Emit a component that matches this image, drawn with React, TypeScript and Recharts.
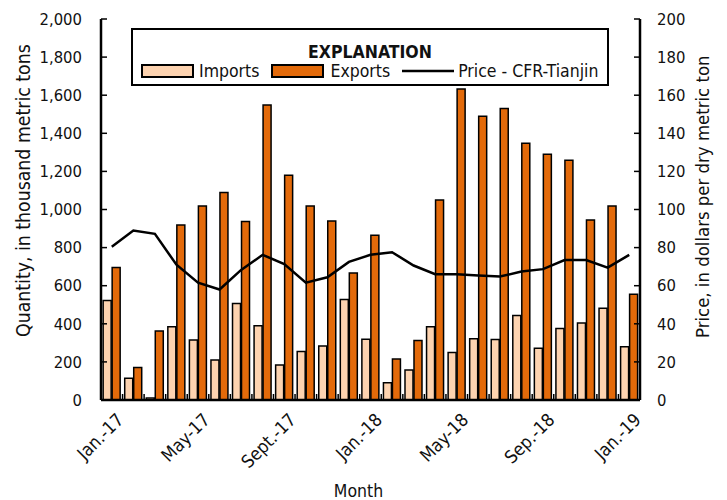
import { ComposedChart, Bar, Line, XAxis, YAxis } from "recharts";

const months = [
  "Jan.-17", "Feb.-17", "Mar.-17", "Apr.-17", "May-17", "June-17", "July-17", "Aug.-17", "Sept.-17",
  "Oct.-17", "Nov.-17", "Dec.-17", "Jan.-18", "Feb.-18", "Mar.-18", "Apr.-18", "May-18", "June-18",
  "July-18", "Aug.-18", "Sep.-18", "Oct.-18", "Nov.-18", "Dec.-18", "Jan.-19",
];
const imports = [522, 114, 10, 385, 315, 210, 506, 390, 184, 254, 284, 527, 319, 91, 158, 385, 249, 322, 317, 443, 271, 375, 404, 482, 280];
const exports = [695, 170, 362, 918, 1019, 1089, 937, 1548, 1180, 1019, 939, 667, 865, 215, 312, 1050, 1632, 1490, 1530, 1348, 1290, 1259, 945, 1019, 555];
const price = [80.5, 89, 87.2, 71, 61.6, 58, 68.3, 76.2, 71.3, 61.6, 64.4, 72.5, 76.2, 77.6, 70.6, 66, 66, 65.4, 64.8, 67.4, 68.7, 73.5, 73.5, 69.5, 76.2];
const leftTicks = [0, 200, 400, 600, 800, 1000, 1200, 1400, 1600, 1800, 2000];
const rightTicks = [0, 20, 40, 60, 80, 100, 120, 140, 160, 180, 200];

const data = months.map((month, i) => ({ month, imports: imports[i], exports: exports[i], price: price[i] }));

const W = 727;
const H = 500;
const M = { top: 19, right: 10, bottom: 0, left: 12 };
const LEFT_W = 89;
const RIGHT_W = 77;
const X_H = 100;
const PLOT_W = W - M.left - M.right - LEFT_W - RIGHT_W;
const BAND = PLOT_W / months.length;

const FONT = '"Liberation Sans Narrow", "Arial Narrow", "DejaVu Sans Condensed", sans-serif';
const IMPORT_FILL = "#FDD3B0";
const EXPORT_FILL = "#E36A0A";

const BottomTick = (props: any) => {
  const { x, y, index, payload } = props;
  const bx = x - BAND / 2;
  const ax = x + 4;
  const ay = y + 12;
  return (
    <g>
      <line x1={bx} x2={bx} y1={y} y2={y - 6} stroke="#000" strokeWidth={1.5} />
      {index % 4 === 0 && (
        <text
          x={ax}
          y={ay}
          dy="0.7em"
          textAnchor="end"
          transform={`rotate(-45 ${ax} ${ay})`}
          fontSize={18}
          fontFamily={FONT}
          fill="#111"
        >
          {payload.value}
        </text>
      )}
    </g>
  );
};

const TopTick = (props: any) => {
  const { x, y } = props;
  const bx = x + BAND / 2;
  return <line x1={bx} x2={bx} y1={y} y2={y + 6} stroke="#000" strokeWidth={1.5} />;
};

const LeftTick = (props: any) => {
  const { x, y, payload } = props;
  return (
    <g>
      <line x1={x} x2={x + 6} y1={y} y2={y} stroke="#000" strokeWidth={1.5} />
      <text x={x - 19} y={y} dy="0.35em" textAnchor="end" fontSize={16.5} fontFamily={FONT} fill="#111">
        {payload.value.toLocaleString("en-US")}
      </text>
    </g>
  );
};

const RightTick = (props: any) => {
  const { x, y, payload } = props;
  return (
    <g>
      <line x1={x} x2={x - 6} y1={y} y2={y} stroke="#000" strokeWidth={1.5} />
      <text x={x + 17} y={y} dy="0.35em" textAnchor="start" fontSize={16.5} fontFamily={FONT} fill="#111">
        {payload.value}
      </text>
    </g>
  );
};

// axis titles start low (near y = 337) and read upwards
const AxisTitle = (props: any) => {
  const { px, py, size, title } = props;
  return (
    <text
      x={px}
      y={py}
      dy="0.35em"
      textAnchor="start"
      transform={`rotate(-90 ${px} ${py})`}
      fontSize={size}
      fontFamily={FONT}
      fill="#111"
    >
      {title}
    </text>
  );
};

function Explanation() {
  return (
    <div
      style={{
        position: "absolute",
        left: 131,
        top: 28,
        width: 474,
        height: 54,
        border: "2px solid #000",
        background: "#fff",
        fontFamily: FONT,
        fontSize: 17.5,
        color: "#111",
      }}
    >
      <div style={{ textAlign: "center", fontWeight: "bold", marginTop: 13, lineHeight: "18px" }}>
        EXPLANATION
      </div>
      <div style={{ display: "flex", alignItems: "center", marginLeft: 8, lineHeight: "20px" }}>
        <svg width={54} height={14} style={{ marginRight: 4 }}>
          <rect x={1} y={1} width={51} height={12} fill={IMPORT_FILL} stroke="#000" strokeWidth={2} />
        </svg>
        <span style={{ marginRight: 12 }}>Imports</span>
        <svg width={54} height={14} style={{ marginRight: 5 }}>
          <rect x={1} y={1} width={51} height={12} fill={EXPORT_FILL} stroke="#000" strokeWidth={2} />
        </svg>
        <span style={{ marginRight: 12 }}>Exports</span>
        <svg width={52} height={14} style={{ marginRight: 4 }}>
          <line x1={0} x2={52} y1={7} y2={7} stroke="#000" strokeWidth={2.5} />
        </svg>
        <span>Price - CFR-Tianjin</span>
      </div>
    </div>
  );
}

export default function App() {
  return (
    <div style={{ position: "absolute", left: 0, top: 0, width: W, height: H, background: "#fff" }}>
      <ComposedChart width={W} height={H} data={data} margin={M} barCategoryGap="10%" barGap={1}>
        <XAxis
          dataKey="month"
          height={X_H}
          interval={0}
          tickSize={0}
          tickMargin={0}
          tickLine={false}
          axisLine={{ stroke: "#000", strokeWidth: 2.5 }}
          tick={BottomTick}
          label={{ value: "Month", position: "insideBottom", offset: 3, dx: -12, fontSize: 17.5, fontFamily: FONT, fill: "#111" }}
        />
        <XAxis
          xAxisId="top"
          dataKey="month"
          orientation="top"
          height={0}
          interval={0}
          tickSize={0}
          tickMargin={0}
          tickLine={false}
          axisLine={{ stroke: "#000", strokeWidth: 2.5 }}
          tick={TopTick}
        />
        <YAxis
          yAxisId="left"
          width={LEFT_W}
          domain={[0, 2000]}
          ticks={leftTicks}
          interval={0}
          tickSize={0}
          tickMargin={0}
          tickLine={false}
          axisLine={{ stroke: "#000", strokeWidth: 2.5 }}
          tick={LeftTick}
          label={<AxisTitle px={23} py={337} size={19.3} title="Quantity, in thousand metric tons" />}
        />
        <YAxis
          yAxisId="right"
          orientation="right"
          width={RIGHT_W}
          domain={[0, 200]}
          ticks={rightTicks}
          interval={0}
          tickSize={0}
          tickMargin={0}
          tickLine={false}
          axisLine={{ stroke: "#000", strokeWidth: 2.5 }}
          tick={RightTick}
          label={<AxisTitle px={703} py={338} size={18.4} title="Price, in dollars per dry metric ton" />}
        />
        <Bar yAxisId="left" dataKey="imports" fill={IMPORT_FILL} stroke="#000" strokeWidth={1.5} isAnimationActive={false} />
        <Bar yAxisId="left" dataKey="exports" fill={EXPORT_FILL} stroke="#000" strokeWidth={1.5} isAnimationActive={false} />
        <Line
          yAxisId="right"
          dataKey="price"
          type="linear"
          stroke="#000"
          strokeWidth={2.5}
          dot={false}
          isAnimationActive={false}
        />
      </ComposedChart>
      <Explanation />
    </div>
  );
}
